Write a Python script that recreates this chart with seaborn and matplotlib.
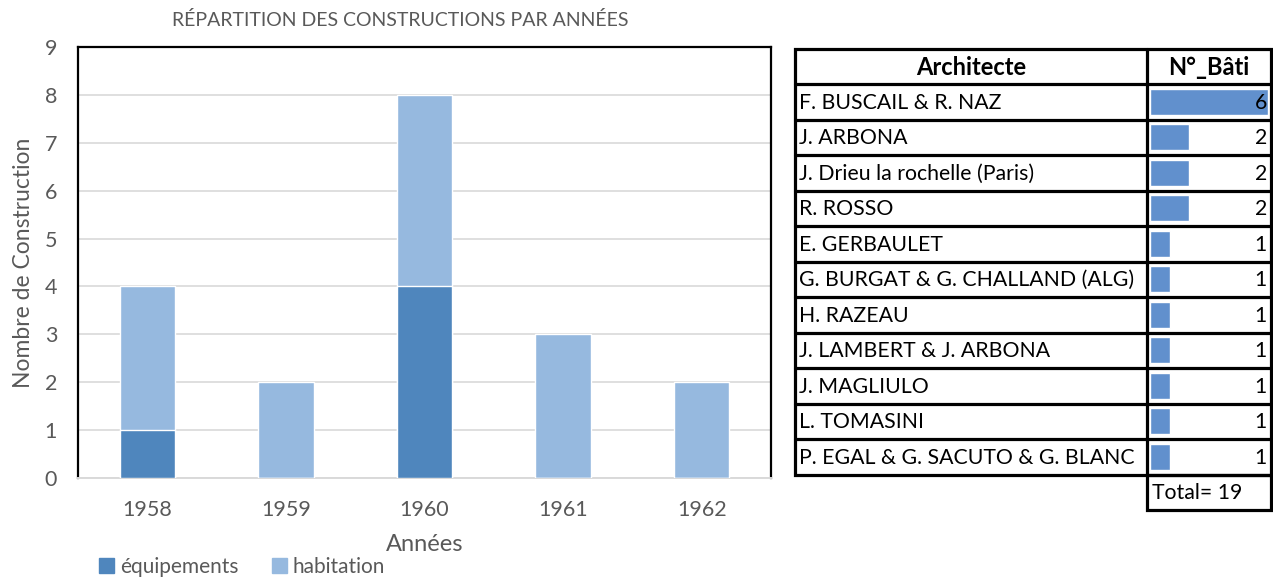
import matplotlib
matplotlib.use("Agg")
import matplotlib.pyplot as plt
import seaborn as sns
import pandas as pd
from matplotlib.patches import Rectangle

# --- data -------------------------------------------------------------
years = ["1958", "1959", "1960", "1961", "1962"]
equipements = [1, 0, 4, 0, 0]
habitation = [3, 2, 4, 3, 2]

architectes = [
    "F. BUSCAIL & R. NAZ",
    "J. ARBONA",
    "J. Drieu la rochelle (Paris)",
    "R. ROSSO",
    "E. GERBAULET",
    "G. BURGAT & G. CHALLAND (ALG)",
    "H. RAZEAU",
    "J. LAMBERT & J. ARBONA",
    "J. MAGLIULO",
    "L. TOMASINI",
    "P. EGAL & G. SACUTO & G. BLANC",
]
nb_bati = [6, 2, 2, 2, 1, 1, 1, 1, 1, 1, 1]

# --- style ------------------------------------------------------------
sns.set_theme(style="white")
plt.rcParams["font.family"] = ["Lato", "DejaVu Sans"]

DARK = "#4F86BD"
LIGHT = "#96B9DF"
GREY_TXT = "#595959"
GRID = "#D9D9D9"
BAR_TABLE = "#6190CD"

W, H = 1273, 577
fig = plt.figure(figsize=(W / 100, H / 100), dpi=100)


def px_rect(x0, y0, x1, y1):
    """figure-fraction rectangle from pixel box (top-left origin)"""
    return [x0 / W, 1 - y1 / H, (x1 - x0) / W, (y1 - y0) / H]


# --- stacked bar chart ------------------------------------------------
ax = fig.add_axes(px_rect(78, 47, 771, 478))
df = pd.DataFrame({"annee": years, "equipements": equipements,
                   "habitation": habitation})
df["total"] = df["equipements"] + df["habitation"]

sns.barplot(data=df, x="annee", y="total", color=LIGHT, width=0.4,
            saturation=1, ax=ax, zorder=3)
sns.barplot(data=df, x="annee", y="equipements", color=DARK, width=0.4,
            saturation=1, ax=ax, zorder=4)

ax.set_xlim(-0.5, 4.5)
ax.set_ylim(0, 9)
ax.set_yticks(range(0, 10))
ax.yaxis.grid(True, color=GRID, linewidth=1.2, zorder=0)
ax.set_axisbelow(True)
for side in ("left", "top", "right"):
    ax.spines[side].set_color("black")
    ax.spines[side].set_linewidth(1.6)
ax.spines["bottom"].set_color(GRID)
ax.spines["bottom"].set_linewidth(1.4)
ax.tick_params(axis="both", length=0, labelsize=15.5, labelcolor=GREY_TXT)
ax.tick_params(axis="y", pad=15)
ax.tick_params(axis="x", pad=16)
ax.set_xlabel("Années", fontsize=17, color=GREY_TXT, labelpad=10)
ax.set_ylabel("Nombre de Construction", fontsize=16.5, color=GREY_TXT,
              labelpad=8)
fig.text(400 / W, 1 - 20 / H, "RÉPARTITION DES CONSTRUCTIONS PAR ANNÉES",
         ha="center", va="center", fontsize=14, color=GREY_TXT)

handles = [Rectangle((0, 0), 1, 1, color=DARK),
           Rectangle((0, 0), 1, 1, color=LIGHT)]
fig.legend(handles, ["équipements", "habitation"], loc="center left",
           bbox_to_anchor=(91 / W, 1 - 567 / H), ncol=2, frameon=False,
           fontsize=15, labelcolor=GREY_TXT, handlelength=0.7,
           handleheight=0.7, handletextpad=0.3, columnspacing=1.6,
           borderaxespad=0)

# --- architect table --------------------------------------------------
tab = fig.add_axes([0, 0, 1, 1], zorder=5)
tab.set_xlim(0, W)
tab.set_ylim(H, 0)
tab.axis("off")
tab.patch.set_alpha(0)

x_left, x_mid, x_right = 795, 1147, 1271
y_head_top, y_head_bot = 49, 84
row_h = 35.5
n = len(architectes)
y_bot = y_head_bot + n * row_h
LW = 2.3

tab.add_patch(Rectangle((x_left, y_head_top), x_right - x_left,
                        y_bot - y_head_top, fill=False, lw=LW,
                        edgecolor="black"))
tab.plot([x_mid, x_mid], [y_head_top, y_bot], color="black", lw=LW)
for i in range(n):
    y = y_head_bot + i * row_h
    tab.plot([x_left, x_right], [y, y], color="black", lw=LW)
# total cell
tab.add_patch(Rectangle((x_mid, y_bot), x_right - x_mid, row_h,
                        fill=False, lw=LW, edgecolor="black"))

tab.text((x_left + x_mid) / 2, (y_head_top + y_head_bot) / 2 + 1,
         "Architecte", ha="center", va="center", fontsize=17,
         fontweight="bold", color="black")
tab.text((x_mid + x_right) / 2, (y_head_top + y_head_bot) / 2 + 1,
         "N°_Bâti", ha="center", va="center", fontsize=17,
         fontweight="bold", color="black")
for i, (name, val) in enumerate(zip(architectes, nb_bati)):
    yc = y_head_bot + (i + 0.5) * row_h + 1
    tab.text(x_left + 4, yc, name, ha="left", va="center", fontsize=15.3,
             color="black")
    tab.text(x_right - 4, yc, str(val), ha="right", va="center",
             fontsize=15.3, color="black")
tab.text(x_mid + 5, y_bot + row_h / 2 + 1, f"Total= {sum(nb_bati)}",
         ha="left", va="center", fontsize=15.3, color="black")

# data bars inside the N°_Bâti column
bars = fig.add_axes(px_rect(1150, y_head_bot, 1268, y_bot), zorder=4)
bdf = pd.DataFrame({"architecte": architectes, "n": nb_bati})
sns.barplot(data=bdf, y="architecte", x="n", orient="h", color=BAR_TABLE,
            saturation=1, width=0.72, ax=bars)
bars.set_xlim(0, max(nb_bati))
bars.set_ylim(n - 0.5, -0.5)
bars.axis("off")

fig.savefig("out.png", dpi=100)
